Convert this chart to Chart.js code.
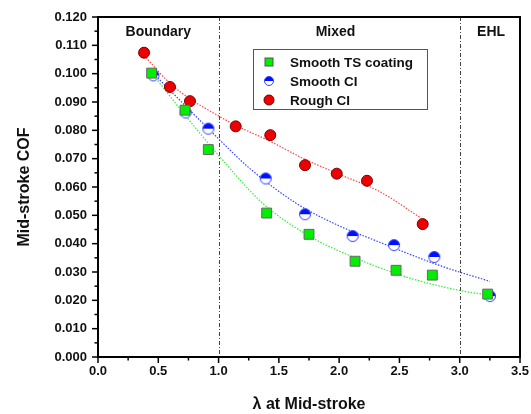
<!DOCTYPE html>
<html>
<head>
<meta charset="utf-8">
<script src="https://cdn.jsdelivr.net/npm/chart.js@4.4.1/dist/chart.umd.min.js"></script>
<style>
  html, body { margin: 0; padding: 0; background: #fff; }
  canvas { display: block; }
</style>
</head>
<body>
<canvas id="chart" width="531" height="414"></canvas>
<script>
const seriesNames = ['Smooth TS coating', 'Smooth CI', 'Rough CI'];

// measured points
const lambdaTS = [0.445, 0.722, 0.915, 1.399, 1.750, 2.132, 2.472, 2.773, 3.232];
const cofTS = [0.1002, 0.0871, 0.0732, 0.0508, 0.0433, 0.0338, 0.0306, 0.0289, 0.0222];
const lambdaSCI = [0.459, 0.727, 0.915, 1.391, 1.717, 2.112, 2.455, 2.789, 3.251];
const cofSCI = [0.0994, 0.0863, 0.0806, 0.0630, 0.0504, 0.0427, 0.0395, 0.0353, 0.0215];
const lambdaRCI = [0.382, 0.597, 0.763, 1.142, 1.429, 1.717, 1.980, 2.231, 2.693];
const cofRCI = [0.1074, 0.0953, 0.0903, 0.0814, 0.0783, 0.0677, 0.0647, 0.0622, 0.0469];

// fitted trend lines
const fitXTS = [0.45, 0.72, 1.0, 1.37, 1.76, 2.0, 2.56, 3.0, 3.25];
const fitYTS = [0.1000, 0.0855, 0.0712, 0.0541, 0.0425, 0.0374, 0.0282, 0.0235, 0.0218];
const fitXSCI = [0.46, 1.0, 1.26, 1.65, 2.0, 2.26, 2.84, 3.25];
const fitYSCI = [0.1000, 0.0770, 0.0665, 0.0541, 0.0463, 0.0418, 0.0322, 0.0267];
const fitXRCI = [0.38, 0.6, 0.76, 1.0, 1.14, 1.41, 1.72, 2.0, 2.34, 2.68];
const fitYRCI = [0.1065, 0.0965, 0.0912, 0.0851, 0.0818, 0.0765, 0.0697, 0.0645, 0.0583, 0.0490];

// lubrication regimes
const regimeBounds = [1.0, 3.0];
const regimeNames = ['Boundary', 'Mixed', 'EHL'];
const regimeCenters = [0.5, 1.97, 3.26];

const xTicks = [0, 0.5, 1.0, 1.5, 2.0, 2.5, 3.0, 3.5];
const yTicks = [0, 0.01, 0.02, 0.03, 0.04, 0.05, 0.06, 0.07, 0.08, 0.09, 0.1, 0.11, 0.12];

const FONT = 'Arial, "Liberation Sans", sans-serif';

const zip = (xs, ys) => xs.map((x, i) => ({ x: x, y: ys[i] }));

function halfCircle(r) {
    const c = document.createElement('canvas');
    const s = Math.ceil(r * 2 + 3);
    c.width = s; c.height = s;
    const g = c.getContext('2d');
    const m = s / 2;
    g.beginPath(); g.arc(m, m, r, 0, Math.PI * 2); g.fillStyle = '#fff'; g.fill();
    g.beginPath(); g.arc(m, m, r, Math.PI, 0); g.closePath(); g.fillStyle = '#0010ff'; g.fill();
    g.beginPath(); g.arc(m, m, r, 0, Math.PI * 2); g.strokeStyle = '#3040ff'; g.lineWidth = 1; g.stroke();
    return c;
}
const blueMark = halfCircle(5.5);
const blueMarkSmall = halfCircle(4.5);

const fitLine = (data, color) => ({
    type: 'line',
    data: data,
    borderColor: color,
    borderWidth: 1.2,
    borderDash: [1.5, 1.5],
    pointRadius: 0,
    fill: false,
    cubicInterpolationMode: 'monotone',
    order: 2
});

// frame, minor ticks, regime lines, labels, legend
const decor = {
    id: 'decor',
    beforeDatasetsDraw(chart) {
        const { ctx, chartArea: a, scales: { x } } = chart;
        ctx.save();
        ctx.strokeStyle = '#444';
        ctx.lineWidth = 1;
        ctx.setLineDash([4, 2, 1, 2]);
        regimeBounds.forEach(v => {
            const px = Math.round(x.getPixelForValue(v)) + 0.5;
            ctx.beginPath(); ctx.moveTo(px, a.top); ctx.lineTo(px, a.bottom); ctx.stroke();
        });
        ctx.restore();
    },
    afterDraw(chart) {
        const { ctx, chartArea: a, scales: { x, y } } = chart;
        ctx.save();
        ctx.strokeStyle = '#000';
        ctx.lineWidth = 1.5;
        for (let v = 0; v <= 3.5001; v += 0.25) {
            const px = x.getPixelForValue(v);
            const len = Math.abs(v / 0.5 - Math.round(v / 0.5)) < 1e-6 ? 6 : 3.5;
            ctx.beginPath(); ctx.moveTo(px, a.bottom); ctx.lineTo(px, a.bottom + len); ctx.stroke();
        }
        for (let i = 0; i <= 24; i++) {
            const py = y.getPixelForValue(i * 0.005);
            const len = i % 2 === 0 ? 6 : 3.5;
            ctx.beginPath(); ctx.moveTo(a.left, py); ctx.lineTo(a.left - len, py); ctx.stroke();
        }
        ctx.lineWidth = 2;
        ctx.strokeRect(a.left, a.top, a.right - a.left, a.bottom - a.top);

        // regime names
        ctx.fillStyle = '#111';
        ctx.font = 'bold 14px ' + FONT;
        ctx.textAlign = 'center';
        ctx.textBaseline = 'middle';
        regimeNames.forEach((n, i) => ctx.fillText(n, x.getPixelForValue(regimeCenters[i]), a.top + 15));

        // legend box
        const lx = 253.5, ly = 49.5, lw = 174, lh = 60;
        ctx.fillStyle = '#fff';
        ctx.fillRect(lx, ly, lw, lh);
        ctx.strokeStyle = '#555';
        ctx.lineWidth = 1;
        ctx.strokeRect(lx, ly, lw, lh);
        const rows = [62, 81, 100];
        const mx = 269;
        ctx.fillStyle = '#00ee00';
        ctx.strokeStyle = '#555';
        ctx.fillRect(mx - 4, rows[0] - 4, 8, 8);
        ctx.strokeRect(mx - 4, rows[0] - 4, 8, 8);
        ctx.drawImage(blueMarkSmall, mx - blueMarkSmall.width / 2, rows[1] - blueMarkSmall.height / 2);
        ctx.beginPath(); ctx.arc(mx, rows[2], 5, 0, Math.PI * 2);
        ctx.fillStyle = '#ee0000'; ctx.fill();
        ctx.strokeStyle = '#700'; ctx.stroke();
        ctx.fillStyle = '#111';
        ctx.font = 'bold 13.5px ' + FONT;
        ctx.textAlign = 'left';
        seriesNames.forEach((n, i) => ctx.fillText(n, 290, rows[i] + 1));
        ctx.restore();
    }
};

new Chart(document.getElementById('chart'), {
    type: 'scatter',
    data: {
        datasets: [
            {
                label: seriesNames[0], data: zip(lambdaTS, cofTS),
                pointStyle: 'rect', pointRadius: 7, pointBackgroundColor: '#00ee00',
                pointBorderColor: '#666', pointBorderWidth: 1, order: 1
            },
            {
                label: seriesNames[1], data: zip(lambdaSCI, cofSCI),
                pointStyle: blueMark, pointRadius: 6, order: 1
            },
            {
                label: seriesNames[2], data: zip(lambdaRCI, cofRCI),
                pointStyle: 'circle', pointRadius: 5.5, pointBackgroundColor: '#ee0000',
                pointBorderColor: '#700', pointBorderWidth: 1, order: 1
            },
            fitLine(zip(fitXTS, fitYTS), '#33ee33'),
            fitLine(zip(fitXSCI, fitYSCI), '#3344ff'),
            fitLine(zip(fitXRCI, fitYRCI), '#ff4444')
        ]
    },
    options: {
        responsive: false,
        animation: false,
        devicePixelRatio: 1,
        layout: { padding: { top: 17, right: 11, left: 0, bottom: 0 } },
        plugins: { legend: { display: false }, tooltip: { enabled: false } },
        scales: {
            x: {
                type: 'linear', min: 0, max: 3.5,
                afterBuildTicks: s => { s.ticks = xTicks.map(v => ({ value: v })); },
                afterFit: s => { s.height = 57; s.paddingLeft = 0; s.paddingRight = 0; },
                grid: { display: false, drawTicks: false },
                border: { display: false },
                ticks: {
                    padding: 7, color: '#111',
                    font: { family: FONT, size: 13, weight: 'bold' },
                    callback: v => v.toFixed(1)
                },
                title: {
                    display: true, text: 'λ at Mid-stroke', color: '#111',
                    font: { family: FONT, size: 16, weight: 'bold', lineHeight: 1.2 },
                    padding: { top: 0, bottom: 0 }
                }
            },
            y: {
                type: 'linear', min: 0, max: 0.12,
                afterBuildTicks: s => { s.ticks = yTicks.map(v => ({ value: v })); },
                afterFit: s => { s.width = 98; s.paddingTop = 0; s.paddingBottom = 0; },
                grid: { display: false, drawTicks: false },
                border: { display: false },
                ticks: {
                    padding: 11, color: '#111',
                    font: { family: FONT, size: 13, weight: 'bold' },
                    callback: v => v.toFixed(3)
                },
                title: {
                    display: true, text: 'Mid-stroke COF', color: '#111',
                    font: { family: FONT, size: 16, weight: 'bold', lineHeight: 1.2 },
                    padding: { top: 15, bottom: 0 }
                }
            }
        }
    },
    plugins: [decor]
});
</script>
</body>
</html>
